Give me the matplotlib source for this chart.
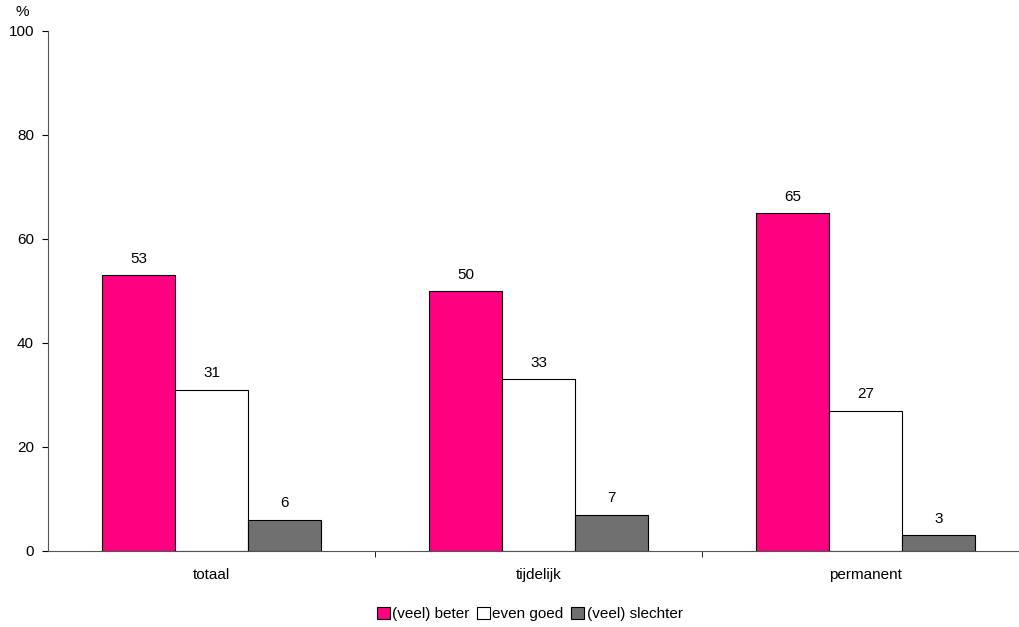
import matplotlib.pyplot as plt
import numpy as np

categories = ["totaal", "tijdelijk", "permanent"]
series = ["(veel) beter", "even goed", "(veel) slechter"]
beter = [53, 50, 65]
even_goed = [31, 33, 27]
slechter = [6, 7, 3]

colors = ["#FF0080", "#FFFFFF", "#707070"]

plt.rcParams['font.family'] = ['Liberation Sans', 'DejaVu Sans']
plt.rcParams['font.size'] = 11

fig = plt.figure(figsize=(10.2, 6.27), dpi=100)
ax = fig.add_axes([48 / 1020, 76 / 627, 981 / 1020, 520 / 627])

x = np.arange(len(categories))
w = 0.223
for i, (vals, name, col) in enumerate(zip([beter, even_goed, slechter], series, colors)):
    pos = x + (i - 1) * w
    ax.bar(pos, vals, width=w, color=col, edgecolor="black", linewidth=0.8, label=name)
    for p, v in zip(pos, vals):
        ax.text(p, v + 1.8, str(v), ha="center", va="bottom")

ax.set_xlim(-0.5, 2.5)
ax.set_ylim(0, 100)
ax.set_yticks(range(0, 101, 20))
ax.set_xticks(x)
ax.set_xticklabels(categories)
ax.tick_params(axis="x", length=0, pad=12)
ax.set_xticks([0.5, 1.5], minor=True)
ax.tick_params(axis="x", which="minor", length=4, direction="out")
ax.tick_params(axis="y", length=4, direction="out", pad=6)
ax.spines["top"].set_visible(False)
ax.spines["right"].set_visible(False)
ax.spines["left"].set_color("#555555")
ax.spines["bottom"].set_color("#555555")

fig.text(22 / 1020, 1 - 12 / 627, "%", ha="center", va="center")

ax.legend(loc="center", bbox_to_anchor=(0.5 - 0.009, -0.121), ncol=3, frameon=False,
          handlelength=0.85, handleheight=0.85, handletextpad=0.15, columnspacing=0.5)

fig.savefig("out.png", dpi=100)
